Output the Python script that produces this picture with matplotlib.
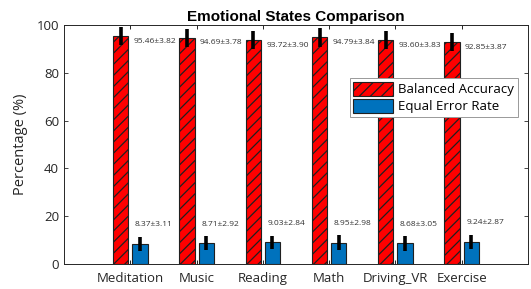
import matplotlib

matplotlib.use("Agg")
import matplotlib.pyplot as plt
import numpy as np

categories = ["Meditation", "Music", "Reading", "Math", "Driving_VR", "Exercise"]
bacc_mean = [95.46, 94.69, 93.72, 94.79, 93.60, 92.85]
bacc_std = [3.82, 3.78, 3.90, 3.84, 3.83, 3.87]
eer_mean = [8.37, 8.71, 9.03, 8.95, 8.68, 9.24]
eer_std = [3.11, 2.92, 2.84, 2.98, 3.05, 2.87]

plt.rcParams["font.family"] = ["Open Sans", "DejaVu Sans"]
plt.rcParams["hatch.linewidth"] = 0.9

fig = plt.figure(figsize=(5.31, 2.89), dpi=100)
ax = fig.add_axes([64 / 531, 25 / 289, 464 / 531, 239 / 289])

x = np.arange(1, len(categories) + 1)
w = 0.23
off = 0.145
ink = "#262626"

ax.bar(x - off, bacc_mean, w, color="#ff0000", edgecolor="#202020", linewidth=0.8,
       hatch="///", label="Balanced Accuracy", zorder=2)
ax.bar(x + off, eer_mean, w, color="#0072BD", edgecolor="#202020", linewidth=0.8,
       label="Equal Error Rate", zorder=2)
ax.errorbar(x - off, bacc_mean, yerr=bacc_std, fmt="none", ecolor="black",
            elinewidth=2.6, capsize=0, zorder=3)
ax.errorbar(x + off, eer_mean, yerr=eer_std, fmt="none", ecolor="black",
            elinewidth=2.6, capsize=0, zorder=3)

for xi, m, s in zip(x, bacc_mean, bacc_std):
    ax.text(xi + 0.05, m - 2.2, f"{m:.2f}±{s:.2f}", fontsize=6, color="#333333",
            ha="left", va="center", zorder=4)
for xi, m, s in zip(x, eer_mean, eer_std):
    ax.text(xi + 0.07, m + 8.0, f"{m:.2f}±{s:.2f}", fontsize=6, color="#333333",
            ha="left", va="center", zorder=4)

ax.set_xlim(0, 7)
ax.set_ylim(0, 100)
ax.set_xticks(x)
ax.set_xticklabels(categories, fontsize=9.5, color=ink)
ax.set_yticks(np.arange(0, 101, 20))
ax.tick_params(axis="y", labelsize=9.5, colors=ink)
ax.tick_params(direction="in", length=3, top=True, right=True, width=0.6)
ax.tick_params(axis="x", pad=6)
for sp in ax.spines.values():
    sp.set_color(ink)
    sp.set_linewidth(0.7)

ax.set_ylabel("Percentage (%)", fontsize=10.5, color=ink, labelpad=6)
ax.set_title("Emotional States Comparison", fontsize=11, fontweight="bold", pad=3,
             family=["Liberation Sans", "DejaVu Sans"])

leg = ax.legend(loc="upper right", bbox_to_anchor=(0.993, 0.805), fontsize=9.5,
                frameon=True, fancybox=False, edgecolor="#999999", framealpha=1,
                handlelength=3.0, handleheight=1.2, borderpad=0.3, labelspacing=0.2,
                handletextpad=0.4)
leg.get_frame().set_linewidth(0.7)

fig.savefig("out.png", dpi=100)
